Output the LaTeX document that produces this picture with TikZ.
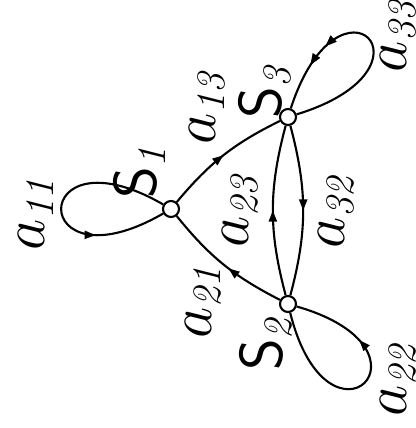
\documentclass[tikz,border=0pt]{standalone}
\usepackage{amstext}
\usetikzlibrary{arrows.meta,decorations.markings}
\DeclareMathSizes{19}{19}{11.5}{9}
\begin{document}
\begin{tikzpicture}[x=0.01cm, y=0.01cm,
  state/.style={draw, circle, fill=white, line width=0.6pt,
                minimum size=0.16cm, inner sep=0pt},
  lbl/.style={rotate=90, inner sep=0pt, font=\fontsize{19}{23}\selectfont},
  link/.style={line width=0.6pt, postaction={decorate},
               decoration={markings, mark=at position #1 with
                 {\arrow{Triangle[length=0.11cm, width=0.08cm]}}}},
  link/.default=0.5,
  selfloop/.style={link=0.7, min distance=1.57cm},
]
\useasboundingbox (0,0) rectangle (416,428);

% States
\node[state] (s1) at (171,219) {};
\node[state] (s2) at (288,124) {};
\node[state] (s3) at (288,311) {};

% State names
\node[lbl] (n1) at (140,256) {$\mathsf{S}_{\textit{1}}$};
\node[lbl] (n2) at (266,84) {$\mathsf{S}_{\textit{2}}$};
\node[lbl] (n3) at (265,336) {$\mathsf{S}_{\textit{3}}$};

% Transitions between states
\draw[link] (s1) to[bend left=12] (s3);
\draw[link=0.45] (s2) to[bend left=12] (s1);
\draw[link] (s2) to[bend left=15] (s3);
\draw[link] (s3) to[bend left=15] (s2);

% Self loops
\draw[selfloop] (s1) to[out=150, in=210] (s1);
\draw[selfloop, link=0.8] (s3) to[out=17, in=72] (s3);
\draw[selfloop] (s2) to[out=-76, in=-16] (s2);

% Transition labels
\node[lbl] (a11) at (36,214) {$a_{\textit{11}}$};
\node[lbl] (a13) at (207,320) {$a_{\textit{13}}$};
\node[lbl] (a33) at (398,392) {$a_{\textit{33}}$};
\node[lbl] (a23) at (240,217) {$a_{\textit{23}}$};
\node[lbl] (a32) at (336,216) {$a_{\textit{32}}$};
\node[lbl] (a21) at (203,126) {$a_{\textit{21}}$};
\node[lbl] (a22) at (398,48) {$a_{\textit{22}}$};

\end{tikzpicture}
\end{document}
